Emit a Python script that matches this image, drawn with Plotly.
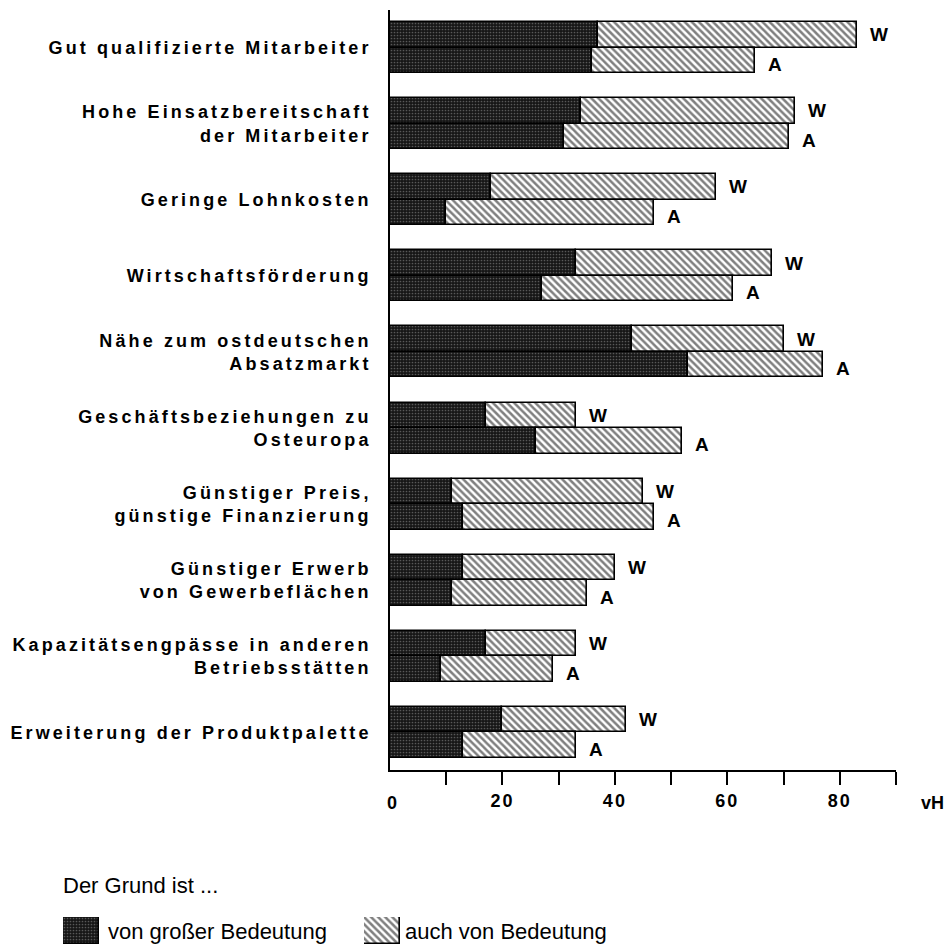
import plotly.graph_objects as go

# Reasons for choosing the location, West (W) vs. abroad/other (A) firms, in percent (vH)
categories = [
    "Gut qualifizierte Mitarbeiter",
    "Hohe Einsatzbereitschaft<br>der Mitarbeiter",
    "Geringe Lohnkosten",
    "Wirtschaftsförderung",
    "Nähe zum ostdeutschen<br>Absatzmarkt",
    "Geschäftsbeziehungen zu<br>Osteuropa",
    "Günstiger Preis,<br>günstige Finanzierung",
    "Günstiger Erwerb<br>von Gewerbeflächen",
    "Kapazitätsengpässe in anderen<br>Betriebsstätten",
    "Erweiterung der Produktpalette",
]
w_great = [37, 34, 18, 33, 43, 17, 11, 13, 17, 20]
w_also = [46, 38, 40, 35, 27, 16, 34, 27, 16, 22]
a_great = [36, 31, 10, 27, 53, 26, 13, 11, 9, 13]
a_also = [29, 40, 37, 34, 24, 26, 34, 24, 20, 20]

x_ticks = [10, 20, 30, 40, 50, 60, 70, 80, 90]
x_ticktext = ["", "20", "", "40", "", "60", "", "80", ""]

series_labels = ["W", "A"]
legend_title = "Der Grund ist ..."
legend_names = ["von großer Bedeutung", "auch von Bedeutung"]

FONT = "Liberation Sans, Arial, Helvetica, sans-serif"
W, H = 950, 946

# pixel frame of the main plot area
PX_L, PX_R, PX_T, PX_B = 390, 896, 10, 770

BAR_H = 0.335
OFF = BAR_H / 2

dark_marker = dict(
    color="#161616",
    pattern=dict(shape=".", fgcolor="#9a9a9a", size=3, solidity=0.25),
    line=dict(color="black", width=1.6),
)
hatch_marker = dict(
    color="white",
    pattern=dict(shape="\\", fgcolor="black", size=5, solidity=0.5),
    line=dict(color="black", width=1.6),
)

n = len(categories)
pos_w = [i - OFF for i in range(n)]
pos_a = [i + OFF for i in range(n)]
w_total = [g + s for g, s in zip(w_great, w_also)]
a_total = [g + s for g, s in zip(a_great, a_also)]

fig = go.Figure()
fig.add_trace(go.Bar(x=w_great, y=pos_w, orientation="h", width=BAR_H,
                     marker=dark_marker, showlegend=False, hoverinfo="skip"))
fig.add_trace(go.Bar(x=w_also, y=pos_w, base=w_great, orientation="h", width=BAR_H,
                     marker=hatch_marker, showlegend=False, hoverinfo="skip"))
fig.add_trace(go.Bar(x=a_great, y=pos_a, orientation="h", width=BAR_H,
                     marker=dark_marker, showlegend=False, hoverinfo="skip"))
fig.add_trace(go.Bar(x=a_also, y=pos_a, base=a_great, orientation="h", width=BAR_H,
                     marker=hatch_marker, showlegend=False, hoverinfo="skip"))

# legend keys, each a full-width bar in its own small axes
for k, (mk, x0px) in enumerate([(dark_marker, 63), (hatch_marker, 364)], start=2):
    fig.add_trace(go.Bar(x=[1], y=[0], orientation="h", width=[1], marker=mk,
                         xaxis=f"x{k}", yaxis=f"y{k}", cliponaxis=False,
                         showlegend=False, hoverinfo="skip"))
    fig.update_layout(**{
        f"xaxis{k}": dict(domain=[x0px / W, (x0px + 36) / W], range=[0, 1], visible=False,
                          anchor=f"y{k}"),
        f"yaxis{k}": dict(domain=[(H - 944) / H, (H - 917) / H], range=[-0.5, 0.5],
                          visible=False, anchor=f"x{k}"),
    })

label_font = dict(family=FONT, size=19, color="black", weight="bold")
annotations = []
for i in range(n):
    annotations.append(dict(x=w_total[i], y=pos_w[i], xref="x", yref="y", text=series_labels[0],
                            showarrow=False, xanchor="left", xshift=11, yshift=0,
                            font=label_font))
    annotations.append(dict(x=a_total[i], y=pos_a[i], xref="x", yref="y", text=series_labels[1],
                            showarrow=False, xanchor="left", xshift=11, yshift=-4,
                            font=label_font))

tick_font = dict(family=FONT, size=18, color="black", weight="bold")
tick_y = 1 - 803 / H
annotations.append(dict(x=0, y=tick_y, xref="x", yref="paper", text="0", showarrow=False,
                        xanchor="center", yanchor="middle", xshift=2, font=tick_font))
annotations.append(dict(x=932 / W, y=tick_y, xref="paper", yref="paper", text="vH",
                        showarrow=False, xanchor="center", yanchor="middle", font=tick_font))

legend_font = dict(family=FONT, size=22, color="black")
annotations.append(dict(x=61 / W, y=1 - 885 / H, xref="paper", yref="paper", text=legend_title,
                        showarrow=False, xanchor="left", yanchor="middle", font=legend_font))
annotations.append(dict(x=106 / W, y=1 - 931 / H, xref="paper", yref="paper", text=legend_names[0],
                        showarrow=False, xanchor="left", yanchor="middle", font=legend_font))
annotations.append(dict(x=403 / W, y=1 - 931 / H, xref="paper", yref="paper", text=legend_names[1],
                        showarrow=False, xanchor="left", yanchor="middle", font=legend_font))

fig.update_layout(
    width=W, height=H,
    margin=dict(l=0, r=0, t=0, b=0),
    paper_bgcolor="white", plot_bgcolor="white",
    barmode="overlay",
    bargap=0,
    annotations=annotations,
    xaxis=dict(
        domain=[PX_L / W, PX_R / W], range=[0, 90],
        showline=True, linecolor="black", linewidth=1.8,
        ticks="outside", ticklen=13, tickwidth=1.6, tickcolor="black",
        tickvals=x_ticks, ticktext=x_ticktext,
        tickfont=tick_font,
        showgrid=False, zeroline=False, anchor="y",
    ),
    yaxis=dict(
        domain=[(H - PX_B) / H, (H - PX_T) / H], range=[n - 1 + 0.493, -0.493],
        showline=True, linecolor="black", linewidth=1.8,
        tickvals=list(range(n)), ticktext=categories, ticks="",
        ticklabelstandoff=13,
        tickfont=dict(family=FONT, size=18, color="black", weight="bold"),
        showgrid=False, zeroline=False, anchor="x",
    ),
)

# wide letter spacing for the axis lettering
css = ".ytick text{letter-spacing:3.1px}.xtick text{letter-spacing:2px}"
post = "var s=document.createElement('style');s.textContent='" + css + "';document.head.appendChild(s);"

fig.write_html("out.html", post_script=post)
